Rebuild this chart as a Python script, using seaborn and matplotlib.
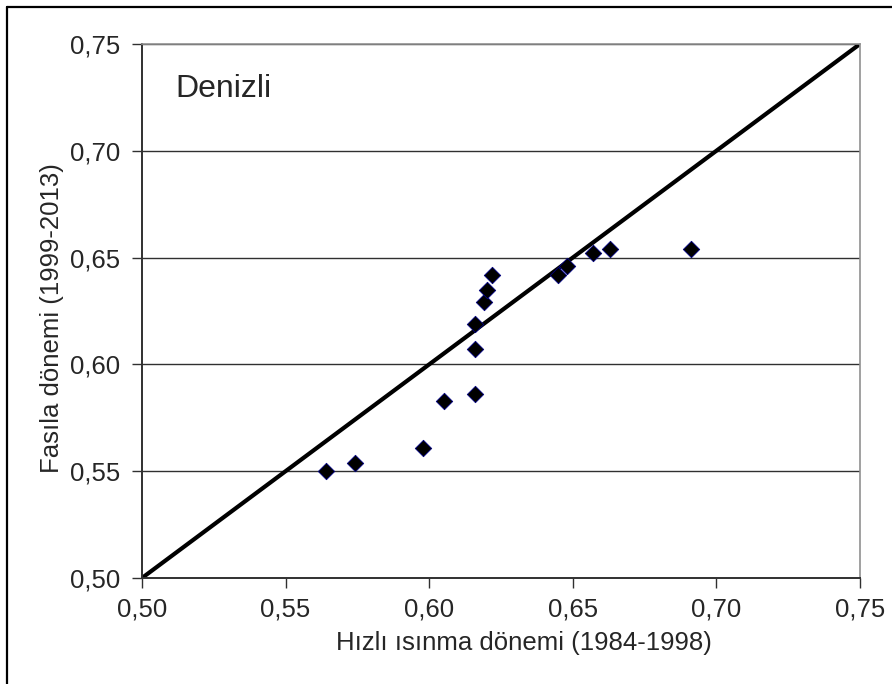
import matplotlib
matplotlib.use("Agg")
import matplotlib.pyplot as plt
from matplotlib.lines import Line2D
import pandas as pd
import seaborn as sns

# values
rapid_warming = [0.564, 0.574, 0.598, 0.605, 0.616, 0.616, 0.616, 0.619,
                 0.620, 0.622, 0.645, 0.648, 0.657, 0.663, 0.691]
hiatus = [0.550, 0.554, 0.561, 0.583, 0.586, 0.607, 0.619, 0.629,
          0.635, 0.642, 0.642, 0.646, 0.652, 0.654, 0.654]
one_to_one = [0.50, 0.75]
tick_values = [0.50, 0.55, 0.60, 0.65, 0.70, 0.75]
tick_labels = ["0,50", "0,55", "0,60", "0,65", "0,70", "0,75"]
station = "Denizli"
x_label = "Hızlı ısınma dönemi (1984-1998)"
y_label = "Fasıla dönemi (1999-2013)"


def main() -> None:
    sns.set_theme(style="white")
    plt.rcParams["font.family"] = ["Liberation Sans", "DejaVu Sans"]

    points = pd.DataFrame({"x": rapid_warming, "y": hiatus})
    line = pd.DataFrame({"x": one_to_one, "y": one_to_one})

    fig = plt.figure(figsize=(8.92, 6.84), dpi=100)
    ax = fig.add_axes([0.1592, 0.155, 0.8049, 0.7807])

    for v in tick_values[1:]:
        ax.axhline(v, color="#303030", linewidth=1.0, zorder=1)

    sns.lineplot(data=line, x="x", y="y", color="black", linewidth=3.0,
                 ax=ax, zorder=2)
    sns.scatterplot(data=points, x="x", y="y", marker="D", s=70,
                    color="black", edgecolor="#000080", linewidth=0.6,
                    ax=ax, zorder=3)

    ax.set_xlim(0.50, 0.75)
    ax.set_ylim(0.50, 0.75)
    ax.set_xticks(tick_values)
    ax.set_xticklabels(tick_labels)
    ax.set_yticks(tick_values)
    ax.set_yticklabels(tick_labels)
    ax.tick_params(axis="both", direction="out", length=7, width=1.0,
                   color="#303030", labelsize=18.5, left=True, bottom=True)
    ax.tick_params(axis="x", pad=7)
    ax.tick_params(axis="y", pad=9)
    ax.set_xlabel(x_label, fontsize=18.5, va="center")
    ax.set_ylabel(y_label, fontsize=18.5, va="center")
    ax.xaxis.set_label_coords(0.532, -0.122)
    ax.yaxis.set_label_coords(-0.125, 0.487)

    for side in ["left", "bottom"]:
        ax.spines[side].set_color("#303030")
        ax.spines[side].set_linewidth(1.4)
    for side in ["top", "right"]:
        ax.spines[side].set_color("#909090")
        ax.spines[side].set_linewidth(1.2)

    ax.text(0.046, 0.900, station, transform=ax.transAxes, fontsize=23,
            ha="left", va="baseline")

    # outer chart frame, only its left and top edges fall inside the picture
    bx = 6.5 / 892
    by = 1 - 6.5 / 684
    fig.add_artist(Line2D([bx, bx], [0, by], transform=fig.transFigure,
                          color="black", linewidth=1.6))
    fig.add_artist(Line2D([bx, 1], [by, by], transform=fig.transFigure,
                          color="black", linewidth=1.6))

    fig.savefig("out.png", dpi=100, facecolor="white")
    plt.close(fig)


if __name__ == "__main__":
    main()
